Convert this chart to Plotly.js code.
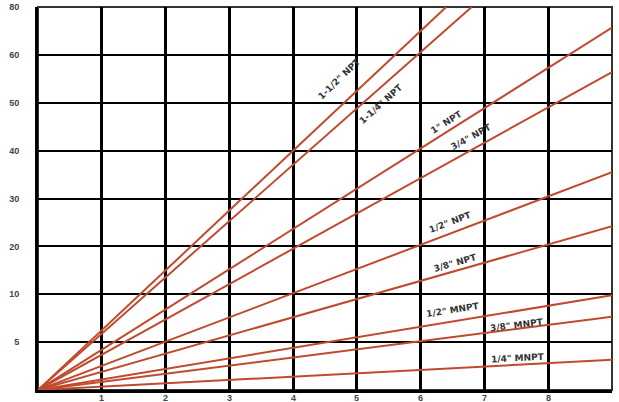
<!DOCTYPE html>
<html>
<head>
<meta charset="utf-8">
<script src="https://cdn.plot.ly/plotly-3.0.1.min.js"></script>
<style>html,body{margin:0;padding:0;background:#fff;}#chart{width:619px;height:402px;}</style>
</head>
<body>
<div id="chart"></div>
<script>
// Series names and end points (each line starts at the origin).
// Y values are in axis grid positions (0..8); tick labels map them to 0,5,10,20,...,60,80.
var seriesNames = ['1-1/2" NPT', '1-1/4" NPT', '1" NPT', '3/4" NPT', '1/2" NPT', '3/8" NPT', '1/2" MNPT', '3/8" MNPT', '1/4" MNPT'];
var endX = [6.4, 6.8, 9, 9, 9, 9, 9, 9, 9];
var endY = [8, 8, 7.57, 6.64, 4.55, 3.42, 1.98, 1.53, 0.63];

// Label positions (data coords) and angles
var labelX = [4.72, 5.38, 6.41, 6.79, 6.47, 6.54, 6.5, 7.51, 7.52];
var labelY = [6.5, 5.97, 5.60, 5.28, 3.51, 2.65, 1.67, 1.36, 0.67];
var labelAngle = [-44, -42, -32, -29, -21, -16, -9, -7, -3];

var xTickVals = [1, 2, 3, 4, 5, 6, 7, 8];
var xTickText = ['1', '2', '3', '4', '5', '6', '7', '8'];
var yTickVals = [1, 2, 3, 4, 5, 6, 7, 8];
var yTickText = ['5', '10', '20', '30', '40', '50', '60', '80'];

var fontFam = 'Liberation Sans, Arial, sans-serif';
var labelFam = 'DejaVu Sans, Liberation Sans, sans-serif';
var lineColor = '#c04a2e';
var traces = seriesNames.map(function (n, i) {
  return {
    x: [0, endX[i]], y: [0, endY[i]], mode: 'lines', name: n,
    line: {color: lineColor, width: 2}, hoverinfo: 'skip'
  };
});

var annotations = seriesNames.map(function (n, i) {
  return {
    x: labelX[i], y: labelY[i], xref: 'x', yref: 'y', text: n, showarrow: false,
    textangle: labelAngle[i], font: {family: labelFam, size: 9, color: '#333', weight: 'bold'}
  };
});
// x tick labels placed just under the axis (the reference packs them tightly)
xTickVals.forEach(function (v, i) {
  annotations.push({
    x: v, y: 0, xref: 'x', yref: 'paper', text: xTickText[i], showarrow: false,
    yanchor: 'top', yshift: -1, font: {family: fontFam, size: 9, color: '#444', weight: 'bold'}
  });
});

var layout = {
  width: 619, height: 402,
  margin: {l: 38, r: 7, t: 7, b: 12},
  paper_bgcolor: '#fff', plot_bgcolor: '#fff',
  showlegend: false,
  xaxis: {
    range: [0, 9], tickvals: xTickVals, showticklabels: false,
    showgrid: true, gridcolor: '#000', gridwidth: 3, zeroline: false,
    showline: true, linecolor: '#000', linewidth: 3, ticks: ''
  },
  yaxis: {
    range: [0, 8], tickvals: yTickVals, ticktext: yTickText,
    showgrid: true, gridcolor: '#000', gridwidth: 2, zeroline: false,
    showline: true, linecolor: '#000', linewidth: 3, ticks: '',
    ticklabelstandoff: 14,
    tickfont: {family: fontFam, size: 9, color: '#444', weight: 'bold'}
  },
  shapes: [{
    type: 'rect', xref: 'paper', yref: 'paper', x0: 0, y0: 0, x1: 1, y1: 1,
    line: {color: '#333', width: 2}, layer: 'below'
  }],
  annotations: annotations
};

Plotly.newPlot('chart', traces, layout, {displayModeBar: false, staticPlot: true});
</script>
</body>
</html>
